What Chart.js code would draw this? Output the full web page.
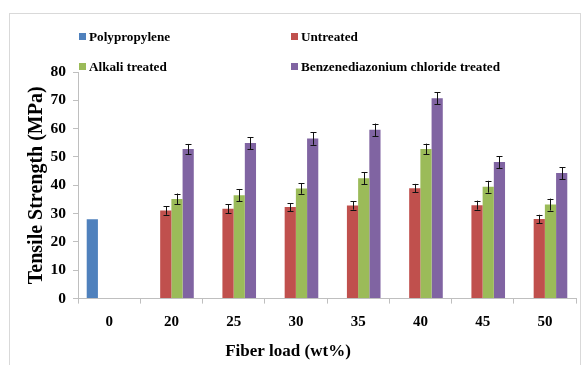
<!DOCTYPE html>
<html>
<head>
<meta charset="utf-8">
<script src="https://cdn.jsdelivr.net/npm/chart.js@4.4.1/dist/chart.umd.min.js"></script>
<style>
  html, body { margin: 0; padding: 0; background: #fff; }
  #wrap { position: relative; width: 582px; height: 365px; overflow: hidden; }
  #frame { position: absolute; left: 9px; top: 13px; width: 572px; height: 360px; border: 1px solid #d9d9d9; box-sizing: border-box; pointer-events: none; }
  canvas { position: absolute; left: 0; top: 0; }
  .lg { position: absolute; font: bold 13.2px "Liberation Serif", "Times New Roman", serif; color: #000; white-space: nowrap; line-height: 16px; }
  .lg i { display: inline-block; width: 7px; height: 7px; margin-right: 3px; vertical-align: 1px; }
</style>
</head>
<body>
<div id="wrap">
  <div id="frame"></div>
  <canvas id="c" width="582" height="365"></canvas>
  <div id="legend"></div>
</div>
<script>
const categories = ['0', '20', '25', '30', '35', '40', '45', '50'];
const seriesNames = ['Polypropylene', 'Untreated', 'Alkali treated', 'Benzenediazonium chloride treated'];
const polypropylene = [28, null, null, null, null, null, null, null];
const untreated = [null, 31.1, 31.7, 32.3, 32.9, 39.0, 33.0, 28.1];
const alkali = [null, 35.2, 36.5, 38.9, 42.5, 52.8, 39.5, 33.2];
const benzene = [null, 52.8, 54.9, 56.5, 59.6, 70.7, 48.2, 44.3];
const polypropyleneErr = [0, 0, 0, 0, 0, 0, 0, 0];
const untreatedErr = [0, 1.5, 1.6, 1.4, 1.5, 1.5, 1.6, 1.5];
const alkaliErr = [0, 1.9, 2.2, 1.9, 2.1, 1.9, 2.1, 2.1];
const benzeneErr = [0, 1.8, 2.1, 2.2, 2.2, 2.1, 2.1, 2.1];
const yTicks = [0, 10, 20, 30, 40, 50, 60, 70, 80];

const colors = ['#4F81BD', '#C0504D', '#9BBB59', '#8064A2'];
const values = [polypropylene, untreated, alkali, benzene];
const errs = [polypropyleneErr, untreatedErr, alkaliErr, benzeneErr];

const serif = '"Liberation Serif", "Times New Roman", serif';

const errorBars = {
  id: 'errorBars',
  afterDatasetsDraw(chart) {
    const ctx = chart.ctx;
    const y = chart.scales.y;
    ctx.save();
    ctx.strokeStyle = '#111';
    ctx.lineWidth = 1;
    chart.data.datasets.forEach((ds, di) => {
      const meta = chart.getDatasetMeta(di);
      meta.data.forEach((el, i) => {
        const v = ds.data[i];
        const e = ds.errors ? ds.errors[i] : 0;
        if (v == null || !e) return;
        const x = Math.round(el.x) + 0.5;
        const y1 = y.getPixelForValue(v + e);
        const y2 = y.getPixelForValue(v - e);
        ctx.beginPath();
        ctx.moveTo(x, y1); ctx.lineTo(x, y2);
        ctx.moveTo(x - 3, Math.round(y1) + 0.5); ctx.lineTo(x + 3, Math.round(y1) + 0.5);
        ctx.moveTo(x - 3, Math.round(y2) + 0.5); ctx.lineTo(x + 3, Math.round(y2) + 0.5);
        ctx.stroke();
      });
    });
    ctx.restore();
  }
};

const chart = new Chart(document.getElementById('c'), {
  type: 'bar',
  data: {
    labels: categories,
    datasets: seriesNames.map((n, k) => ({
      label: n,
      data: values[k],
      errors: errs[k],
      backgroundColor: colors[k],
      borderWidth: 0,
      barPercentage: 1.0,
      categoryPercentage: 0.72
    }))
  },
  options: {
    responsive: false,
    animation: false,
    devicePixelRatio: 1,
    layout: { padding: { top: 72, right: 6, bottom: 0, left: 0 } },
    plugins: {
      legend: { display: false },
      tooltip: { enabled: false },
      title: {
        display: true,
        text: 'Fiber load (wt%)',
        position: 'bottom',
        color: '#000',
        font: { family: serif, size: 17, weight: 'bold' },
        padding: { top: 10, bottom: 3 }
      }
    },
    scales: {
      x: {
        grid: { offset: true, drawOnChartArea: false, drawTicks: true, tickLength: 5, color: '#bfbfbf' },
        border: { color: '#bfbfbf' },
        ticks: { color: '#000', font: { family: serif, size: 15, weight: 'bold' }, padding: 10, maxRotation: 0 },
        afterFit(s) { s.height = 33; }
      },
      y: {
        min: 0, max: 80,
        afterBuildTicks(s) { s.ticks = yTicks.map(v => ({ value: v })); },
        grid: { drawOnChartArea: false, drawTicks: true, tickLength: 5, color: '#bfbfbf' },
        border: { color: '#bfbfbf' },
        ticks: { color: '#000', font: { family: serif, size: 15.5, weight: 'bold' }, padding: 7 },
        title: {
          display: true,
          text: 'Tensile Strength (MPa)',
          color: '#000',
          font: { family: serif, size: 20, weight: 'bold' },
          padding: { top: 25, bottom: 0 }
        },
        afterFit(s) { s.width = 78; }
      }
    }
  },
  plugins: [errorBars]
});

// HTML legend built from the datasets
const legendPos = [[79, 29], [291, 29], [79, 59], [291, 59]];
const lg = document.getElementById('legend');
chart.data.datasets.forEach((ds, k) => {
  const d = document.createElement('div');
  d.className = 'lg';
  d.style.left = legendPos[k][0] + 'px';
  d.style.top = legendPos[k][1] + 'px';
  const sw = document.createElement('i');
  sw.style.background = ds.backgroundColor;
  d.appendChild(sw);
  d.appendChild(document.createTextNode(ds.label));
  lg.appendChild(d);
});
</script>
</body>
</html>
